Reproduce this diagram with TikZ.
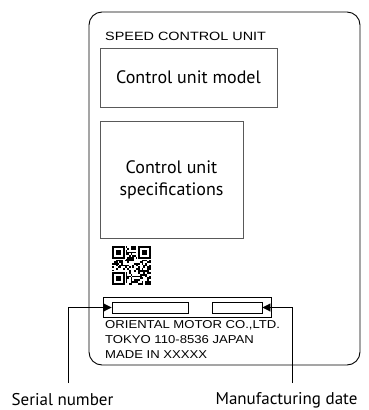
\documentclass[tikz,border=0pt]{standalone}
\usepackage{fontspec}
\setmainfont{Liberation Sans}
\newfontfamily\humfont{PT Sans}
\usepackage{tikz}
\usetikzlibrary{arrows.meta,positioning}

\begin{document}
\begin{tikzpicture}[
  x=1pt, y=1pt,
  plate/.style={rectangle, draw, line width=0.9pt, rounded corners=13pt, inner sep=0pt},
  infobox/.style={rectangle, draw=black!65, line width=0.8pt, inner sep=0pt, align=center,
    font=\humfont\fontsize{18}{22}\selectfont},
  slot/.style={rectangle, draw, line width=0.9pt, inner sep=0pt},
  capsline/.style={anchor=west, inner sep=0pt, font=\fontsize{11.4}{13}\selectfont\addfontfeature{FakeStretch=1.15}},
  caption/.style={inner sep=0pt, font=\humfont\fontsize{17}{20}\selectfont},
  arrow/.style={-{Triangle[length=8pt,width=8pt]}, line width=0.9pt}
]
\useasboundingbox (0,0) rectangle (369,-410);

% Label plate
\node[plate, minimum width=271pt, minimum height=353pt] (label) at (224.5,-188.5) {};
\node[capsline, font=\fontsize{12}{14}\selectfont\addfontfeature{FakeStretch=1.2}] (title) at (105,-36.5) {SPEED CONTROL UNIT};

\node[infobox, minimum width=177pt, minimum height=59pt] (model) at (188.5,-77.5) {Control unit model};
\node[infobox, minimum width=143pt, minimum height=117pt] (spec) at (171.5,-179.5) {Control unit\\specifications};

% QR code
\begin{scope}[shift={(112,-246)}, y=-1.85pt, x=1.85pt]
  \pgfmathsetseed{41}
  \foreach \i in {0,...,20}{
    \foreach \j in {0,...,20}{
      \pgfmathrandominteger{\r}{0}{1}
      \ifnum\r=1 \fill (\i,\j) rectangle ++(1,1); \fi
    }
  }
  \foreach \cx/\cy in {0/0, 14/0, 0/14}{
    \fill[white] (\cx-0.5,\cy-0.5) rectangle ++(8,8);
    \fill (\cx,\cy) rectangle ++(7,7);
    \fill[white] (\cx+1,\cy+1) rectangle ++(5,5);
    \fill (\cx+2,\cy+2) rectangle ++(3,3);
  }
\end{scope}

% Serial number / date strip
\node[slot, minimum width=168pt, minimum height=20pt] (strip) at (187,-307) {};
\node[slot, minimum width=76pt, minimum height=11pt] (serialbox) at (150,-307.5) {};
\node[slot, minimum width=50pt, minimum height=11pt] (datebox) at (237,-307.5) {};

\node[capsline] (maker) at (105,-325.5) {ORIENTAL MOTOR CO.,LTD.};
\node[capsline] (city) at (105,-340) {TOKYO 110-8536 JAPAN};
\node[capsline] (origin) at (105,-354.5) {MADE IN XXXXX};

% Callouts
\node[caption] (serial) at (62.5,-400) {Serial number};
\node[caption] (date) at (286.5,-400) {Manufacturing date};
\coordinate (serialfoot) at (68,-383);
\coordinate (datefoot) at (292,-383);

\draw[arrow] (serialfoot) |- (serialbox.west);
\draw[arrow] (datefoot) |- (datebox.east);

\end{tikzpicture}
\end{document}
